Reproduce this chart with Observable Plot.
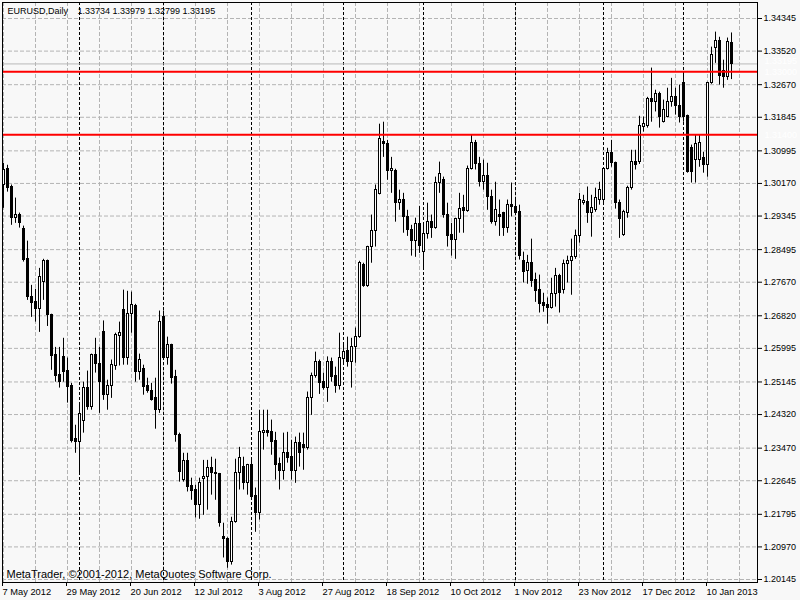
<!DOCTYPE html>
<html><head><meta charset="utf-8">
<script src="https://cdn.jsdelivr.net/npm/d3@7"></script>
<script src="https://cdn.jsdelivr.net/npm/@observablehq/plot@0.6"></script>
<style>
html,body{margin:0;padding:0;background:#f8f8f8;}
#chart{width:800px;height:600px;overflow:hidden;}
</style></head><body><div id="chart"></div>
<script>
const symbol = "EURUSD,Daily";
const caption = "MetaTrader, \u00a92001-2012, MetaQuotes Software Corp.";
// Daily bars, 7 May 2012 (bar 0) .. 18 Jan 2013 (bar 182)
const open = [1.3013,1.3053,1.3008,1.2929,1.2937,1.2901,1.2825,1.2729,1.2716,1.2699,
1.2767,1.2820,1.2683,1.2582,1.2532,1.2578,1.2542,1.2504,1.2370,1.2362,
1.2415,1.2499,1.2451,1.2582,1.2560,1.2640,1.2481,1.2504,1.2555,1.2630,
1.2696,1.2575,1.2686,1.2706,1.2539,1.2547,1.2504,1.2491,1.2473,1.2443,
1.2678,1.2575,1.2608,1.2527,1.2380,1.2266,1.2314,1.2251,1.2241,1.2203,
1.2268,1.2273,1.2296,1.2281,1.2281,1.2122,1.2117,1.2058,1.2160,1.2283,
1.2299,1.2258,1.2304,1.2226,1.2182,1.2385,1.2390,1.2388,1.2365,1.2306,
1.2289,1.2334,1.2324,1.2289,1.2360,1.2355,1.2347,1.2473,1.2529,1.2565,
1.2514,1.2499,1.2565,1.2529,1.2504,1.2572,1.2592,1.2565,1.2602,1.2628,
1.2810,1.2757,1.2856,1.2896,1.2990,1.3121,1.3116,1.3048,1.3048,1.2967,
1.2975,1.2932,1.2899,1.2871,1.2914,1.2843,1.2889,1.2919,1.2904,1.3018,
1.3025,1.2937,1.2886,1.2873,1.2926,1.2954,1.2947,1.3053,1.3119,1.3066,
1.3020,1.3035,1.2982,1.2919,1.2937,1.2942,1.2904,1.2962,1.2957,1.2944,
1.2820,1.2795,1.2815,1.2772,1.2747,1.2714,1.2709,1.2701,1.2737,1.2782,
1.2747,1.2813,1.2820,1.2830,1.2883,1.2967,1.2969,1.2942,1.2949,1.2975,
1.2975,1.3053,1.3094,1.3068,1.2967,1.2886,1.2942,1.3005,1.3071,1.3071,
1.3159,1.3162,1.3230,1.3223,1.3243,1.3172,1.3185,1.3223,1.3235,1.3213,
1.3271,1.3187,1.3106,1.3076,1.3076,1.3081,1.3063,1.3271,1.3359,1.3377,
1.3301,1.3286,1.33734];
const high = [1.3068,1.3063,1.3013,1.2980,1.2942,1.2909,1.2871,1.2759,1.2749,1.2802,
1.2825,1.2823,1.2686,1.2602,1.2602,1.2625,1.2575,1.2511,1.2405,1.2456,
1.2514,1.2542,1.2585,1.2625,1.2602,1.2669,1.2519,1.2570,1.2638,1.2666,
1.2747,1.2744,1.2742,1.2711,1.2585,1.2557,1.2524,1.2511,1.2524,1.2694,
1.2694,1.2628,1.2610,1.2544,1.2385,1.2334,1.2334,1.2271,1.2253,1.2271,
1.2316,1.2316,1.2324,1.2319,1.2283,1.2157,1.2120,1.2172,1.2319,1.2349,
1.2324,1.2306,1.2316,1.2246,1.2443,1.2443,1.2443,1.2418,1.2387,1.2322,
1.2385,1.2387,1.2367,1.2375,1.2385,1.2385,1.2489,1.2537,1.2590,1.2570,
1.2537,1.2578,1.2575,1.2552,1.2638,1.2610,1.2628,1.2625,1.2651,1.2820,
1.2815,1.2858,1.2937,1.3013,1.3167,1.3172,1.3126,1.3083,1.3053,1.3000,
1.2992,1.2949,1.2911,1.2929,1.2959,1.2911,1.2967,1.2937,1.3033,1.3071,
1.3033,1.2967,1.2916,1.2929,1.2992,1.2987,1.3061,1.3139,1.3126,1.3083,
1.3076,1.3068,1.3000,1.3020,1.2975,1.2944,1.2975,1.3018,1.2975,1.2962,
1.2843,1.2835,1.2876,1.2790,1.2785,1.2739,1.2727,1.2777,1.2802,1.2787,
1.2823,1.2833,1.2876,1.2899,1.2992,1.2987,1.3008,1.2987,1.3005,1.3020,
1.3056,1.3106,1.3126,1.3071,1.2975,1.2949,1.3010,1.3101,1.3101,1.3187,
1.3185,1.3235,1.3309,1.3253,1.3248,1.3228,1.3258,1.3283,1.3258,1.3266,
1.3294,1.3190,1.3114,1.3139,1.3139,1.3096,1.3273,1.3362,1.3400,1.3387,
1.3329,1.3385,1.33979];
const low = [1.2954,1.2995,1.2911,1.2916,1.2904,1.2818,1.2721,1.2678,1.2666,1.2640,
1.2721,1.2655,1.2544,1.2514,1.2499,1.2514,1.2461,1.2360,1.2334,1.2283,
1.2385,1.2443,1.2443,1.2537,1.2435,1.2468,1.2443,1.2473,1.2544,1.2555,
1.2557,1.2557,1.2638,1.2514,1.2519,1.2481,1.2486,1.2466,1.2395,1.2435,
1.2570,1.2557,1.2509,1.2362,1.2261,1.2261,1.2236,1.2215,1.2170,1.2167,
1.2177,1.2190,1.2228,1.2215,1.2147,1.2069,1.2043,1.2051,1.2157,1.2241,
1.2241,1.2228,1.2215,1.2134,1.2165,1.2342,1.2375,1.2329,1.2266,1.2241,
1.2266,1.2309,1.2266,1.2258,1.2299,1.2291,1.2342,1.2430,1.2524,1.2483,
1.2494,1.2463,1.2514,1.2486,1.2494,1.2557,1.2552,1.2499,1.2562,1.2625,
1.2754,1.2754,1.2815,1.2856,1.2988,1.3083,1.3025,1.2992,1.2919,1.2949,
1.2891,1.2883,1.2833,1.2830,1.2840,1.2802,1.2876,1.2878,1.2901,1.2992,
1.2929,1.2856,1.2833,1.2825,1.2891,1.2891,1.2944,1.3051,1.3051,1.3008,
1.3000,1.2949,1.2914,1.2909,1.2883,1.2883,1.2891,1.2932,1.2937,1.2823,
1.2765,1.2762,1.2754,1.2716,1.2689,1.2691,1.2661,1.2699,1.2704,1.2689,
1.2737,1.2765,1.2734,1.2825,1.2866,1.2962,1.2916,1.2881,1.2944,1.2962,
1.2962,1.3051,1.3058,1.2952,1.2878,1.2883,1.2929,1.3000,1.3051,1.3065,
1.3147,1.3157,1.3172,1.3198,1.3157,1.3170,1.3183,1.3210,1.3190,1.3170,
1.3172,1.3043,1.3018,1.3018,1.3058,1.3043,1.3033,1.3268,1.3321,1.3266,
1.3258,1.3278,1.32799];
const close = [1.3051,1.3005,1.2929,1.2937,1.2916,1.2823,1.2729,1.2714,1.2699,1.2780,
1.2820,1.2683,1.2580,1.2529,1.2514,1.2539,1.2501,1.2365,1.2362,1.2433,
1.2499,1.2451,1.2582,1.2560,1.2514,1.2481,1.2504,1.2557,1.2633,1.2638,
1.2575,1.2686,1.2709,1.2539,1.2570,1.2501,1.2491,1.2468,1.2443,1.2666,
1.2575,1.2608,1.2524,1.2380,1.2286,1.2314,1.2248,1.2238,1.2203,1.2258,
1.2273,1.2296,1.2283,1.2283,1.2157,1.2117,1.2058,1.2160,1.2283,1.2322,
1.2258,1.2304,1.2223,1.2182,1.2387,1.2390,1.2385,1.2362,1.2304,1.2289,
1.2334,1.2322,1.2289,1.2360,1.2334,1.2347,1.2473,1.2529,1.2565,1.2511,
1.2499,1.2565,1.2527,1.2504,1.2575,1.2590,1.2565,1.2602,1.2628,1.2815,
1.2757,1.2856,1.2896,1.3000,1.3129,1.3116,1.3048,1.3053,1.2967,1.2975,
1.2932,1.2899,1.2871,1.2914,1.2858,1.2889,1.2919,1.2904,1.3018,1.3040,
1.2937,1.2883,1.2873,1.2926,1.2952,1.2947,1.3053,1.3119,1.3066,1.3020,
1.3035,1.2982,1.2919,1.2949,1.2932,1.2904,1.2962,1.2957,1.2942,1.2833,
1.2792,1.2815,1.2770,1.2744,1.2711,1.2706,1.2701,1.2737,1.2782,1.2739,
1.2813,1.2820,1.2830,1.2883,1.2975,1.2972,1.2942,1.2954,1.2980,1.3000,
1.3053,1.3094,1.3068,1.2967,1.2926,1.2944,1.3005,1.3071,1.3063,1.3162,
1.3167,1.3230,1.3223,1.3243,1.3185,1.3203,1.3223,1.3235,1.3213,1.3185,
1.3185,1.3045,1.3045,1.3116,1.3119,1.3063,1.3271,1.3342,1.3377,1.3288,
1.3286,1.3374,1.33195];
const tickBars = [0,16,32,48,64,80,96,112,128,144,160,176];
const tickLabels = ["7 May 2012","29 May 2012","20 Jun 2012","12 Jul 2012","3 Aug 2012","27 Aug 2012",
  "18 Sep 2012","10 Oct 2012","1 Nov 2012","23 Nov 2012","17 Dec 2012","10 Jan 2013"];
const separatorBars = [19,40,62,85,105,128,150,170];
const gridBars = [0,8,16,24,32,40,48,56,64,72,80,88,96,104,112,120,128,136,144,152,160,168,176,184];
const yTicks = [1.20145,1.20970,1.21795,1.22645,1.23470,1.24320,1.25145,1.25995,1.26820,
  1.27670,1.28495,1.29345,1.30170,1.30995,1.31845,1.32670,1.33520,1.34345];
const levels = [1.33000, 1.31400];

const bars = open.map((o, i) => ({i, open: o, high: high[i], low: low[i], close: close[i]}));
const last = bars[bars.length - 1];
const fmt = d3.format(".5f");
const font = "'Liberation Sans', Arial, sans-serif";

const svg = Plot.plot({
  width: 800, height: 600,
  marginLeft: 2, marginRight: 43, marginTop: 2, marginBottom: 18,
  style: {background: "#f8f8f8", fontFamily: font, fontSize: "9px", color: "black"},
  x: {type: "linear", domain: [-0.25, 188.5], axis: null, label: null},
  y: {type: "linear", domain: [1.200691, 1.347501], axis: null, label: null},
  marks: [
    Plot.gridX(gridBars, {stroke: "#b4b4b4", strokeOpacity: 1, strokeDasharray: "4,2"}),
    Plot.gridY(yTicks, {stroke: "#b4b4b4", strokeOpacity: 1, strokeDasharray: "4,2"}),
    Plot.ruleX(separatorBars, {stroke: "black", strokeDasharray: "3,2"}),
    Plot.ruleY([last.close], {stroke: "#b8b8b8"}),
    Plot.ruleX(bars, {x: "i", y1: "low", y2: "high", stroke: "black"}),
    Plot.rect(bars, {x1: d => d.i - 0.125, x2: d => d.i + 0.375, y1: "open", y2: "close",
      fill: d => d.close >= d.open ? "white" : "black", stroke: "black", shapeRendering: "crispEdges"}),
    Plot.ruleY(levels, {stroke: "#ff0000", strokeWidth: 2}),
    Plot.frame({stroke: "black"}),
    Plot.axisY(yTicks, {anchor: "right", label: null, tickSize: 4, tickPadding: 2, tickFormat: fmt, stroke: "black", fill: "black"}),
    Plot.axisX(tickBars, {anchor: "bottom", label: null, tickSize: 4, tickPadding: 2, fontSize: 9.3,
      tickFormat: d => tickLabels[tickBars.indexOf(d)], textAnchor: "start", dx: -1, stroke: "black", fill: "black"}),
    Plot.text([last.close], {y: d => d, frameAnchor: "right", dx: 7, dy: -3, textAnchor: "start",
      text: d => fmt(d), fill: "white", ariaLabel: "bid-label"}),
    Plot.text(levels, {y: d => d, frameAnchor: "right", dx: 7, textAnchor: "start",
      text: d => fmt(d), fill: "white", ariaLabel: "level-labels"}),
    Plot.text([symbol], {frameAnchor: "top-left", dx: 5, dy: 8.5, textAnchor: "start", lineAnchor: "middle", fill: "black"}),
    Plot.text([[last.open, last.high, last.low, last.close].map(fmt).join(" ")],
      {frameAnchor: "top-left", dx: 75, dy: 8.5, textAnchor: "start", lineAnchor: "middle", fill: "black"}),
    Plot.text([caption], {frameAnchor: "bottom-left", dx: 4, dy: -8, textAnchor: "start", lineAnchor: "middle",
      fontSize: 11, fill: "black"})
  ]
});
document.getElementById("chart").append(svg);

function addBoxes(label, color) {
  d3.select(svg).selectAll(`g[aria-label="${label}"] text`).each(function () {
    const b = this.getBBox();
    const cy = b.y + b.height / 2;
    d3.select(this.parentNode).insert("rect", () => this)
      .attr("transform", this.getAttribute("transform"))
      .attr("x", b.x - 4).attr("y", cy - 5)
      .attr("width", 60).attr("height", 10)
      .attr("fill", color);
  });
}
addBoxes("bid-label", "black");
addBoxes("level-labels", "#ff0000");
const bid = svg.querySelector('g[aria-label="bid-label"]');
const lv = svg.querySelector('g[aria-label="level-labels"]');
if (bid && lv) lv.parentNode.insertBefore(bid, lv);
</script></body></html>
